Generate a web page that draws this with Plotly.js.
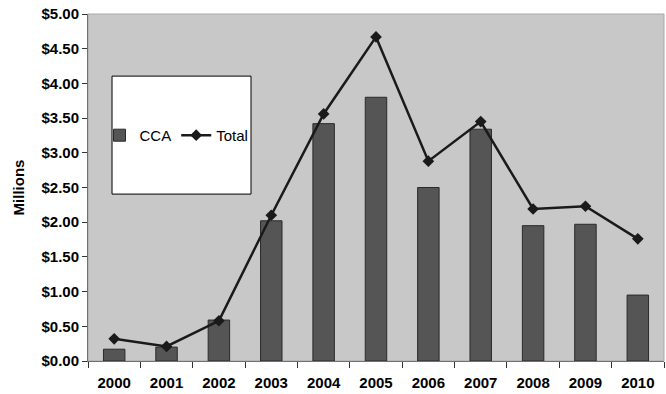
<!DOCTYPE html>
<html>
<head>
<meta charset="utf-8">
<script src="https://cdn.plot.ly/plotly-3.0.1.min.js"></script>
<style>html,body{margin:0;padding:0;background:#fff;}#chart{width:666px;height:394px;}</style>
</head>
<body>
<div id="chart"></div>
<script>
const years = ["2000","2001","2002","2003","2004","2005","2006","2007","2008","2009","2010"];
const ccaValues = [0.17, 0.20, 0.59, 2.02, 3.42, 3.80, 2.50, 3.34, 1.95, 1.97, 0.95];
const totalValues = [0.32, 0.21, 0.58, 2.10, 3.56, 4.67, 2.88, 3.45, 2.19, 2.23, 1.76];
const yTickVals = [0, 0.5, 1, 1.5, 2, 2.5, 3, 3.5, 4, 4.5, 5];
const yTickText = ["$0.00","$0.50","$1.00","$1.50","$2.00","$2.50","$3.00","$3.50","$4.00","$4.50","$5.00"];

const FONT = 'Liberation Sans, Arial, sans-serif';

const traces = [
  {
    type: 'bar', name: 'CCA', x: years, y: ccaValues,
    marker: {color: '#555555', line: {color: '#2a2a2a', width: 1}},
    width: 0.41
  },
  {
    type: 'scatter', mode: 'lines+markers', name: 'Total', x: years, y: totalValues,
    line: {color: '#1a1a1a', width: 2.5},
    marker: {symbol: 'diamond', size: 9, color: '#1a1a1a'}
  }
];

const layout = {
  width: 666, height: 394,
  margin: {l: 88, r: 2, t: 14, b: 33},
  paper_bgcolor: '#ffffff',
  plot_bgcolor: '#c8c8c8',
  showlegend: true,
  legend: {
    orientation: 'h', x: 0.02, xanchor: 'left', y: 0.65, yanchor: 'middle',
    bgcolor: 'rgba(0,0,0,0)', borderwidth: 0,
    font: {family: FONT, size: 15, color: '#000'},
    traceorder: 'normal', itemwidth: 30
  },
  xaxis: {
    type: 'category', tickson: 'boundaries', ticks: 'outside', ticklen: 6, tickcolor: '#333',
    showline: true, linecolor: '#707070', linewidth: 1, showgrid: false, zeroline: false,
    tickfont: {family: FONT, size: 15, color: '#000', weight: 'bold'},
    ticklabelstandoff: 8,
    range: [-0.5, 10.5]
  },
  yaxis: {
    range: [0, 5], tickvals: yTickVals, ticktext: yTickText,
    ticks: 'outside', ticklen: 5, tickcolor: '#333',
    showline: true, linecolor: '#707070', linewidth: 1, showgrid: false, zeroline: false,
    tickfont: {family: FONT, size: 15, color: '#000', weight: 'bold'},
    title: {text: 'Millions', standoff: 13, font: {family: FONT, size: 15, color: '#000', weight: 'bold'}}
  },
  shapes: [
    {type: 'rect', xref: 'paper', yref: 'paper', x0: 0, x1: 1, y0: 0, y1: 1,
     line: {color: '#a8a8a8', width: 1}, layer: 'below'},
    {type: 'rect', xref: 'paper', yref: 'paper', x0: 0.0417, x1: 0.283, y0: 0.481, y1: 0.821,
     fillcolor: '#ffffff', line: {color: '#000000', width: 1}, layer: 'above'}
  ]
};

Plotly.newPlot('chart', traces, layout, {displayModeBar: false, staticPlot: true});
</script>
</body>
</html>
